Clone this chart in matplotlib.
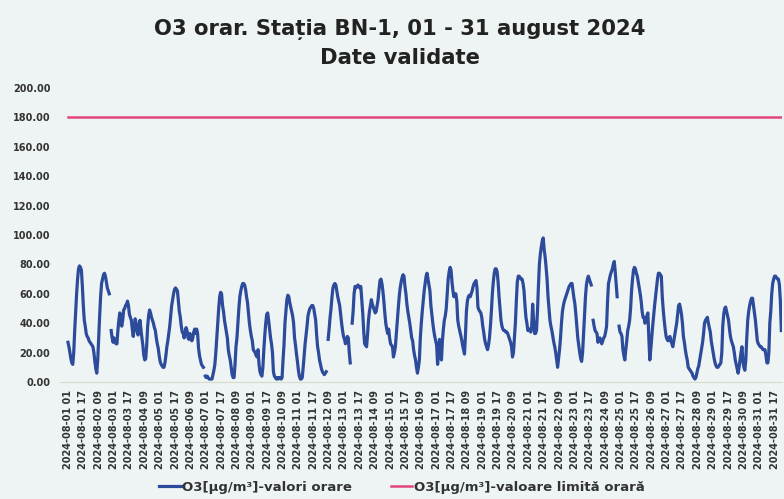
import numpy as np
import matplotlib
matplotlib.use("Agg")
import matplotlib.pyplot as plt

# ---------------- data ----------------
title_line1 = "O3 orar. Stația BN-1, 01 - 31 august 2024"
title_line2 = "Date validate"
series_label = "O3[µg/m³]-valori orare"
limit_label = "O3[µg/m³]-valoare limită orară"
limit_value = 180.0

nan = np.nan
# hourly O3 values, one row per day (hours 01..24), 01-31 August 2024
o3_hourly = [
    27, 24, 20, 16, 13, 12, 20, 35, 48, 60, 70, 77, 79, 78, 76, 65, 52, 42, 38, 33, 31, 30, 28, 27,
    26, 25, 24, 20, 14, 9, 6, 15, 30, 45, 58, 67, 70, 73, 74, 72, 68, 64, 62, 60, nan, 35, 30, 27,
    30, 28, 26, 26, 35, 42, 47, 42, 38, 42, 49, 50, 52, 53, 55, 52, 46, 44, 42, 36, 31, 38, 43, 40,
    34, 32, 38, 42, 36, 30, 25, 18, 15, 16, 25, 38, 45, 49, 47, 44, 42, 40, 37, 35, 30, 26, 23, 18,
    14, 12, 11, 10, 10, 13, 18, 24, 28, 33, 38, 45, 52, 56, 60, 63, 64, 63, 62, 55, 48, 44, 38, 34,
    33, 30, 34, 37, 35, 30, 29, 33, 31, 28, 30, 34, 36, 33, 36, 33, 23, 18, 15, 12, 11, 10, nan, 4,
    3, 4, 3, 2, 2, 2, 2, 5, 8, 12, 20, 30, 40, 50, 58, 61, 60, 52, 48, 42, 38, 34, 30, 22,
    18, 15, 10, 5, 3, 3, 12, 24, 30, 40, 50, 58, 62, 65, 67, 67, 66, 63, 58, 54, 47, 40, 35, 31,
    28, 22, 21, 20, 18, 17, 22, 12, 7, 5, 4, 10, 22, 32, 40, 46, 47, 42, 36, 30, 26, 20, 7, 4,
    3, 2, 3, 2, 3, 3, 2, 3, 15, 25, 40, 48, 56, 59, 58, 54, 51, 48, 45, 40, 30, 25, 19, 14,
    8, 4, 2, 2, 3, 10, 18, 26, 32, 38, 45, 48, 50, 51, 52, 52, 50, 46, 42, 32, 24, 20, 15, 12,
    9, 7, 6, 5, 6, 7, nan, 29, 36, 44, 50, 58, 64, 66, 67, 66, 62, 58, 55, 52, 46, 40, 35, 31,
    29, 26, 28, 31, 30, 20, 13, nan, 40, 48, 60, 65, 64, 65, 66, 65, 64, 65, 56, 47, 35, 26, 25, 24,
    32, 42, 48, 52, 56, 53, 51, 49, 47, 48, 52, 56, 63, 69, 70, 67, 62, 55, 47, 40, 36, 33, 36, 30,
    26, 25, 24, 17, 20, 24, 33, 42, 50, 58, 64, 68, 71, 73, 72, 65, 60, 53, 48, 44, 40, 35, 30, 28,
    22, 18, 15, 10, 6, 10, 15, 30, 40, 48, 55, 62, 67, 72, 74, 70, 66, 62, 52, 46, 40, 35, 31, 28,
    25, 12, 20, 29, 22, 15, 28, 36, 42, 45, 50, 60, 70, 75, 78, 76, 68, 62, 58, 60, 60, 55, 42, 38,
    35, 32, 29, 25, 22, 19, 32, 48, 55, 58, 59, 58, 60, 62, 65, 67, 68, 69, 64, 51, 49, 48, 47, 44,
    38, 34, 29, 26, 24, 22, 25, 30, 38, 48, 60, 68, 74, 77, 77, 75, 68, 58, 50, 42, 38, 36, 35, 35,
    34, 34, 33, 31, 29, 27, 24, 17, 20, 30, 40, 55, 68, 72, 72, 71, 70, 70, 67, 62, 52, 44, 40, 35,
    35, 36, 34, 38, 53, 42, 33, 33, 35, 48, 65, 80, 87, 92, 96, 98, 90, 85, 78, 70, 58, 50, 42, 38,
    35, 31, 27, 24, 20, 15, 10, 16, 22, 30, 40, 48, 52, 55, 57, 59, 61, 63, 65, 66, 67, 67, 62, 57,
    53, 46, 38, 30, 25, 20, 16, 14, 20, 32, 45, 58, 66, 70, 72, 70, 68, 66, nan, 42, 38, 35, 34, 33,
    27, 29, 30, 28, 26, 28, 30, 31, 34, 38, 55, 67, 70, 73, 75, 77, 80, 82, 75, 66, 58, nan, 38, 34,
    33, 31, 22, 18, 15, 22, 28, 35, 38, 42, 50, 62, 70, 76, 78, 77, 74, 72, 68, 64, 60, 55, 48, 44,
    44, 40, 42, 45, 47, 30, 15, 22, 30, 38, 45, 52, 58, 64, 70, 74, 74, 73, 72, 58, 49, 42, 36, 31,
    29, 28, 30, 31, 28, 26, 24, 28, 32, 36, 40, 46, 52, 53, 50, 46, 40, 31, 27, 22, 18, 15, 10, 9,
    8, 7, 6, 4, 3, 2, 3, 6, 9, 11, 15, 19, 23, 27, 33, 40, 42, 43, 44, 40, 37, 34, 28, 24,
    20, 16, 13, 11, 10, 10, 11, 12, 13, 20, 38, 46, 50, 51, 48, 45, 42, 36, 31, 28, 26, 24, 20, 15,
    12, 9, 6, 10, 15, 20, 24, 14, 10, 8, 15, 30, 42, 48, 52, 55, 57, 57, 52, 47, 42, 35, 28, 26,
    25, 24, 24, 23, 22, 22, 22, 18, 13, 13, 20, 40, 48, 60, 67, 70, 72, 72, 71, 70, 70, 66, 55, 35,
]

tick_labels = [
    "2024-08-01 01", "2024-08-01 17", "2024-08-02 09", "2024-08-03 01", "2024-08-03 17",
    "2024-08-04 09", "2024-08-05 01", "2024-08-05 17", "2024-08-06 09", "2024-08-07 01",
    "2024-08-07 17", "2024-08-08 09", "2024-08-09 01", "2024-08-09 17", "2024-08-10 09",
    "2024-08-11 01", "2024-08-11 17", "2024-08-12 09", "2024-08-13 01", "2024-08-13 17",
    "2024-08-14 09", "2024-08-15 01", "2024-08-15 17", "2024-08-16 09", "2024-08-17 01",
    "2024-08-17 17", "2024-08-18 09", "2024-08-19 01", "2024-08-19 17", "2024-08-20 09",
    "2024-08-21 01", "2024-08-21 17", "2024-08-22 09", "2024-08-23 01", "2024-08-23 17",
    "2024-08-24 09", "2024-08-25 01", "2024-08-25 17", "2024-08-26 09", "2024-08-27 01",
    "2024-08-27 17", "2024-08-28 09", "2024-08-29 01", "2024-08-29 17", "2024-08-30 09",
    "2024-08-31 01", "2024-08-31 17",
]
tick_step = 16
y_ticks = [0, 20, 40, 60, 80, 100, 120, 140, 160, 180, 200]

# ---------------- figure ----------------
bg = "#eef3f4"
blue = "#2d4b9b"
pink = "#e2457c"
txt = "#333333"
font = "DejaVu Sans"

fig = plt.figure(figsize=(7.84, 4.99), dpi=100, facecolor=bg)
ax = fig.add_axes([60 / 784, 1 - 382 / 499, 722 / 784, 294 / 499], facecolor=bg)

values = np.array(o3_hourly, dtype=float)
x = np.arange(len(values))
ax.plot(x, values, color=blue, lw=2.3, solid_joinstyle="round", label=series_label)
ax.plot(x, np.full(len(values), limit_value), color=pink, lw=1.8, label=limit_label)

ax.set_ylim(0, 200)
ax.set_xlim(-8.3, 743.7)
ax.set_yticks(y_ticks)
ax.set_yticklabels([f"{v:.2f}" for v in y_ticks], fontsize=7, fontweight="bold",
                   color=txt, family=font)
ax.set_xticks(np.arange(0, len(values), tick_step))
ax.set_xticklabels(tick_labels, rotation=90, fontsize=7, fontweight="bold",
                   color=txt, family=font, va="top", ha="center")
ax.tick_params(axis="both", length=0)
ax.tick_params(axis="y", pad=7)
ax.tick_params(axis="x", pad=6)
for s in ["top", "right", "left"]:
    ax.spines[s].set_visible(False)
ax.spines["bottom"].set_color("#d5dcc8")
ax.spines["bottom"].set_linewidth(0.8)

fig.text(400 / 784, 1 - 30 / 499, title_line1, ha="center", va="center",
         fontsize=15.2, fontweight="bold", color="#222222", family=font)
fig.text(400 / 784, 1 - 58 / 499, title_line2, ha="center", va="center",
         fontsize=15.2, fontweight="bold", color="#222222", family=font)

leg = fig.legend(loc="center", bbox_to_anchor=(402 / 784, 1 - 487 / 499), ncol=2,
                 frameon=False, handlelength=1.6, handletextpad=0.1, columnspacing=3.0,
                 prop={"family": font, "size": 9.5, "weight": "bold"})
for t in leg.get_texts():
    t.set_color(txt)

fig.savefig("out.png", dpi=100, facecolor=bg)
